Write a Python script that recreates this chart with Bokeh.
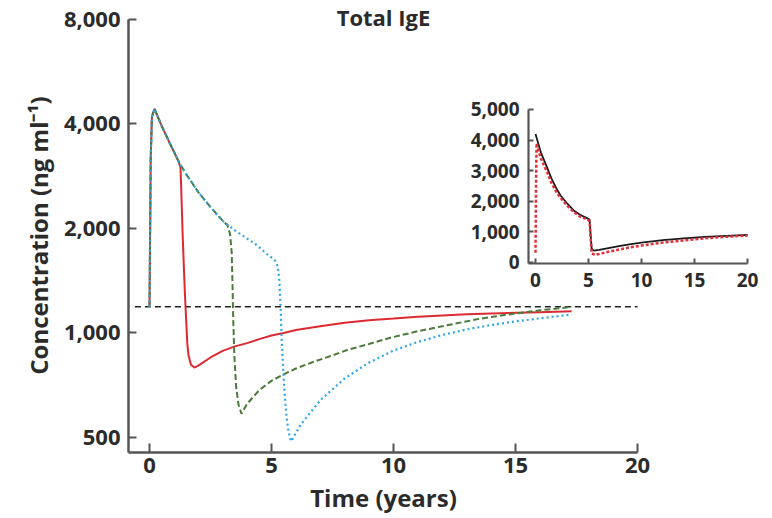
import math
from bokeh.plotting import figure
from bokeh.models import Range1d, LinearAxis, LinearScale, FixedTicker, Label
from bokeh.embed import file_html
from bokeh.resources import INLINE

# ---------------- data (main panel, log scale) ----------------
red_t = [0, 0.05, 0.1, 0.2, 0.5, 0.8, 1.0, 1.2, 1.27, 1.3, 1.35, 1.4, 1.45, 1.5, 1.55, 1.6, 1.7, 1.84,
         2.0, 2.5, 3.0, 3.5, 4.0, 4.5, 5.0, 5.5, 6.0, 7.0, 8.0, 9.0, 10.0, 11.0, 12.0, 13.0, 14.0, 15.0, 16.0, 17.3]
red_v = [1190, 3200, 4200, 4420, 3950, 3560, 3330, 3110, 3000, 2600, 2000, 1600, 1300, 1100, 930, 860, 810, 795,
         805, 850, 888, 915, 935, 960, 983, 1000, 1020, 1045, 1070, 1088, 1100, 1113, 1123, 1132, 1138, 1143, 1148, 1155]

green_t = [0, 0.05, 0.1, 0.2, 0.5, 0.8, 1.0, 1.2, 1.5, 2.0, 2.5, 3.0, 3.2, 3.3, 3.37, 3.4, 3.43, 3.48, 3.55,
           3.65, 3.77, 4.0, 4.5, 5.0, 5.5, 6.0, 6.7, 7.5, 8.1, 9.0, 9.9, 11.0, 12.5, 13.5, 14.86, 16.0, 17.3]
green_v = [1190, 3200, 4200, 4420, 3950, 3560, 3330, 3110, 2870, 2545, 2305, 2105, 2040, 1930, 1700, 1400, 1100, 850, 700,
           620, 585, 625, 685, 728, 760, 790, 825, 862, 893, 930, 970, 1012, 1063, 1098, 1135, 1162, 1188]

blue_t = [0, 0.05, 0.1, 0.2, 0.5, 0.8, 1.0, 1.2, 1.5, 2.0, 2.5, 3.0, 3.5, 4.0, 4.24, 4.5, 4.8, 5.0, 5.14, 5.25,
          5.32, 5.37, 5.42, 5.48, 5.55, 5.62, 5.7, 5.8, 6.0, 6.2, 7.0, 8.0, 9.0, 10.0, 11.0, 12.0, 13.0, 14.0,
          15.0, 16.0, 17.3]
blue_v = [1190, 3200, 4200, 4420, 3950, 3560, 3330, 3110, 2870, 2545, 2305, 2105, 1975, 1870, 1825, 1765, 1690, 1650,
          1618, 1560, 1420, 1200, 950, 780, 650, 570, 520, 487, 515, 545, 640, 740, 822, 890, 942, 987, 1024, 1054,
          1080, 1102, 1130]

ref_t = [-0.6, 20]
ref_v = [1190, 1190]

x_ticks = [0, 5, 10, 15, 20]
x_tick_labels = ["0", "5", "10", "15", "20"]
y_ticks = [500, 1000, 2000, 4000, 8000]
y_tick_labels = ["500", "1,000", "2,000", "4,000", "8,000"]

# ---------------- data (inset, linear scale) ----------------
ins_black_t = [0, 0.5, 1.1, 1.5, 2.0, 2.36, 3.0, 3.6, 4.2, 4.9, 5.1, 5.2, 5.3, 5.5, 6, 7, 8, 9, 10, 12, 14, 16, 18, 20]
ins_black_v = [4200, 3600, 3100, 2750, 2400, 2190, 1920, 1700, 1560, 1440, 1400, 900, 450, 390, 410, 480, 540, 600,
               650, 730, 790, 840, 870, 900]
ins_red_t = [0, 0.05, 0.1, 0.5, 1.1, 1.5, 2.0, 2.5, 3.0, 3.6, 4.2, 4.9, 5.1, 5.2, 5.3, 5.6, 6, 7, 8, 9, 10, 12, 14,
             16, 18, 20]
ins_red_v = [320, 2500, 3900, 3400, 2950, 2600, 2280, 2050, 1850, 1650, 1500, 1400, 1350, 800, 300, 250, 280, 360,
             430, 500, 555, 650, 720, 790, 840, 880]

ins_x_ticks = [0, 5, 10, 15, 20]
ins_x_tick_labels = ["0", "5", "10", "15", "20"]
ins_y_ticks = [0, 1000, 2000, 3000, 4000, 5000]
ins_y_tick_labels = ["0", "1,000", "2,000", "3,000", "4,000", "5,000"]

title_text = "Total IgE"
x_label = "Time (years)"
y_label = "Concentration (ng ml\u207b\u00b9)"

# ---------------- styling ----------------
FONT = "Open Sans"
TXT = "#2b2b2b"
AX = "#555555"

X0 = -0.861   # left end of the main axes
Y0 = 452      # bottom end of the main axes

p = figure(frame_width=766, frame_height=516,
           x_range=Range1d(-6.107, 25.287), y_range=Range1d(296.0, 9075), y_axis_type="log",
           output_backend="svg", toolbar_location=None,
           min_border_left=0, min_border_top=0, min_border_right=0, min_border_bottom=0,
           outline_line_color=None, background_fill_color="white", border_fill_color="white")
p.grid.visible = False

p.extra_x_ranges = {"ix": Range1d(-50.47, 21.79)}
p.extra_y_ranges = {"iy": Range1d(-8301, 8562)}
p.extra_x_scales = {"ix": LinearScale()}
p.extra_y_scales = {"iy": LinearScale()}


def style_axis(ax, size, tick_len, standoff):
    ax.axis_line_color = AX
    ax.axis_line_width = 2.5
    ax.major_tick_line_color = AX
    ax.major_tick_line_width = 2
    ax.major_tick_in = tick_len
    ax.major_tick_out = 0
    ax.minor_tick_line_color = None
    ax.major_label_text_font = FONT
    ax.major_label_text_font_style = "bold"
    ax.major_label_text_font_size = size
    ax.major_label_text_color = TXT
    ax.major_label_standoff = standoff


xa = p.xaxis[0]
xa.ticker = FixedTicker(ticks=x_ticks)
xa.major_label_overrides = dict(zip(x_ticks, x_tick_labels))
xa.bounds = (X0, 20)
xa.fixed_location = Y0
style_axis(xa, "22px", 9, 5)

ya = p.yaxis[0]
ya.ticker = FixedTicker(ticks=y_ticks)
ya.major_label_overrides = dict(zip(y_ticks, y_tick_labels))
ya.bounds = (Y0, 8000)
ya.fixed_location = X0
style_axis(ya, "22px", 8, 8)

# main curves
p.line(ref_t, ref_v, line_color="#222222", line_width=1.6, line_dash="6 4")
p.line(red_t, red_v, line_color="#dc2a33", line_width=2)
p.line(green_t, green_v, line_color="#4b7a3c", line_width=2, line_dash="6 3")
p.line(blue_t, blue_v, line_color="#2ea6e6", line_width=2.2, line_dash="2 3")

# inset curves
p.line(ins_black_t, ins_black_v, line_color="#1a1a1a", line_width=1.8, x_range_name="ix", y_range_name="iy")
p.line(ins_red_t, ins_red_v, line_color="#e0303a", line_width=2.5, line_dash="3 2",
       x_range_name="ix", y_range_name="iy")

# inset axes
iya = LinearAxis(x_range_name="ix", y_range_name="iy", fixed_location=-0.66, bounds=(-33, 5000),
                 ticker=FixedTicker(ticks=ins_y_ticks))
iya.major_label_overrides = dict(zip(ins_y_ticks, ins_y_tick_labels))
style_axis(iya, "19px", 5, 9)
iya.axis_line_width = 2.2
p.add_layout(iya, "left")

ixa = LinearAxis(x_range_name="ix", y_range_name="iy", fixed_location=-33, bounds=(-0.66, 20),
                 ticker=FixedTicker(ticks=ins_x_ticks))
ixa.major_label_overrides = dict(zip(ins_x_ticks, ins_x_tick_labels))
style_axis(ixa, "19px", 5, 9)
ixa.axis_line_width = 2.2
p.add_layout(ixa, "below")

# texts
title = Label(x=9.59, y=8000, y_offset=3, text=title_text, text_align="center", text_baseline="middle",
              text_font=FONT, text_font_style="bold", text_font_size="22px", text_color=TXT)
p.add_layout(title)

xtitle = Label(x=9.59, y=Y0, y_offset=-45, text=x_label, text_align="center", text_baseline="middle",
               text_font=FONT, text_font_style="bold", text_font_size="24px", text_color=TXT)
p.add_layout(xtitle)

ytitle = Label(x=-4.55, y=1909, angle=math.pi / 2, text=y_label, text_align="center", text_baseline="middle",
               text_font=FONT, text_font_style="bold", text_font_size="24px", text_color=TXT)
p.add_layout(ytitle)

open("out.html", "w").write(file_html(p, INLINE))
